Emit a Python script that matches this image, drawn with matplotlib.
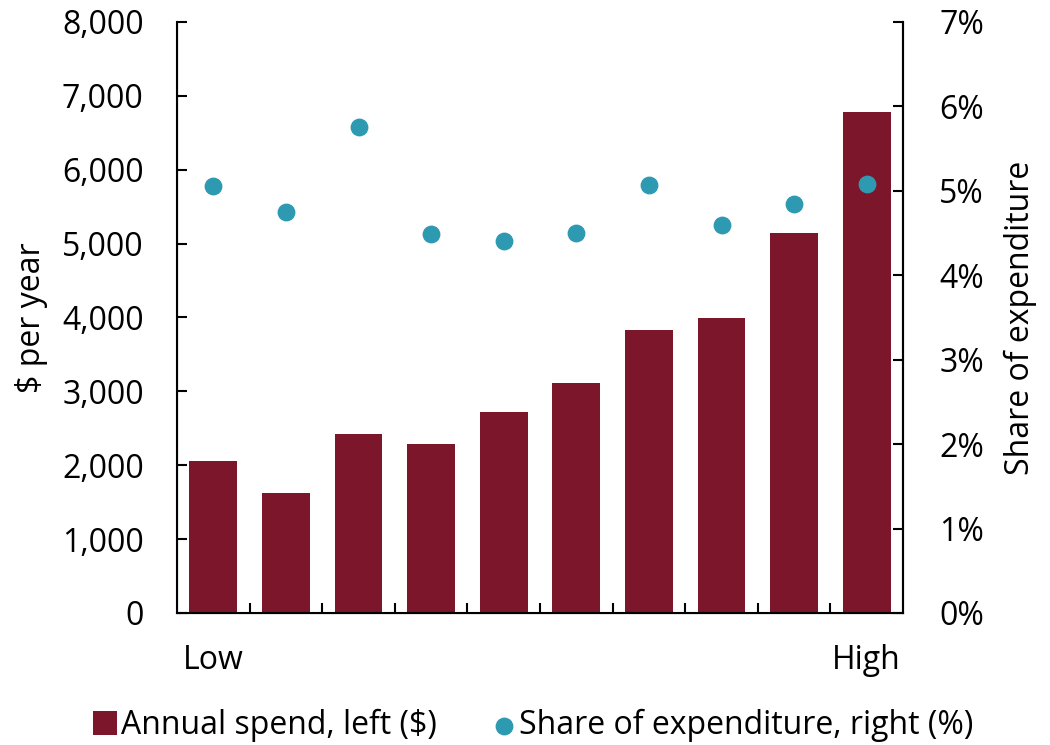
import matplotlib.pyplot as plt
from matplotlib.ticker import FuncFormatter, FixedLocator
import numpy as np

plt.rcParams["font.family"] = ["Open Sans", "DejaVu Sans"]
plt.rcParams["font.size"] = 23

categories = ["Low", "", "", "", "", "", "", "", "", "High"]
annual_spend = [2057, 1624, 2422, 2287, 2720, 3112, 3830, 3992, 5142, 6780]
share_pct = [5.06, 4.75, 5.76, 4.49, 4.40, 4.50, 5.07, 4.59, 4.85, 5.08]

bar_color = "#7b162b"
dot_color = "#2e9ab2"

fig = plt.figure(figsize=(10.5, 7.45), dpi=100)
ax = fig.add_axes([0.1686, 0.1772, 0.6914, 0.7933])
xi = np.arange(len(categories))
ax.bar(xi, annual_spend, width=0.66, color=bar_color, zorder=2,
       label="Annual spend, left ($)")
ax.set_xlim(-0.5, len(categories) - 0.5)
ax.set_ylim(0, 8000)
ax.set_yticks(range(0, 8001, 1000))
ax.yaxis.set_major_formatter(FuncFormatter(lambda v, p: f"{int(v):,}"))
ax.set_ylabel("$ per year", labelpad=10)
ax.set_xticks(xi)
ax.set_xticklabels(categories)
ax.tick_params(axis="x", length=0, pad=22)
ax.xaxis.set_minor_locator(FixedLocator(xi[:-1] + 0.5))
ax.tick_params(axis="x", which="minor", direction="in", length=7, width=1.5)
ax.tick_params(axis="y", direction="in", length=7, width=1.5, pad=24)
ax.spines["top"].set_visible(False)
for s in ["left", "bottom", "right"]:
    ax.spines[s].set_linewidth(1.5)

ax2 = ax.twinx()
ax2.scatter(xi, share_pct, s=140, color=dot_color, zorder=3,
            label="Share of expenditure, right (%)")
ax2.set_ylim(0, 7)
ax2.set_yticks(range(0, 8))
ax2.yaxis.set_major_formatter(FuncFormatter(lambda v, p: f"{int(v)}%"))
ax2.set_ylabel("Share of expenditure", labelpad=14)
ax2.tick_params(axis="y", direction="in", length=7, width=1.5, pad=26)
ax2.spines["top"].set_visible(False)
ax2.spines["right"].set_linewidth(1.5)

h1, l1 = ax.get_legend_handles_labels()
h2, l2 = ax2.get_legend_handles_labels()
fig.legend(h1 + h2, l1 + l2, loc="lower center", ncol=2, frameon=False,
           bbox_to_anchor=(0.508, -0.035), handlelength=0.75, handleheight=0.75,
           handletextpad=0.1, columnspacing=1.73)

fig.savefig("out.png", dpi=100)
